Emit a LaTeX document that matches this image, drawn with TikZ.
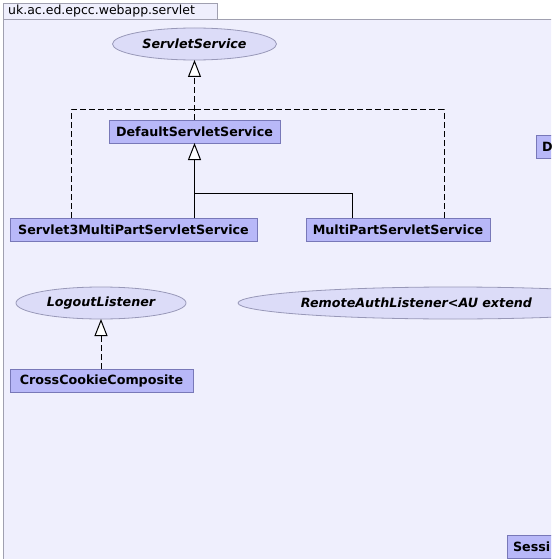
\documentclass[tikz,border=0pt]{standalone}
\usepackage{fontspec}
\setmainfont{DejaVu Sans}
\usepackage{xcolor}
\definecolor{framefill}{HTML}{EFEFFD}
\definecolor{framedraw}{HTML}{A0A0B0}
\definecolor{ifacefill}{HTML}{DCDCF8}
\definecolor{ifacedraw}{HTML}{9898B8}
\definecolor{clsfill}{HTML}{B8B8F8}
\definecolor{clsdraw}{HTML}{7878B8}
\usetikzlibrary{shapes.geometric, arrows.meta, positioning, calc}
\tikzset{
  pkgtab/.style ={draw=framedraw, fill=framefill, line width=0.8pt},
  clsbox/.style ={rectangle, draw=clsdraw, fill=clsfill, line width=0.8pt, text=black,
                  inner sep=0pt, minimum height=23pt, outer sep=0pt, font=\fontsize{12.7}{14}\selectfont\bfseries},
  ifacebox/.style={ellipse, draw=ifacedraw, fill=ifacefill, line width=0.8pt, text=black,
                  inner sep=0pt, minimum height=32pt, outer sep=0pt, font=\fontsize{12.7}{14}\selectfont\bfseries\itshape},
  realize/.style ={-{Triangle[length=17pt, width=13pt, fill=white]}, line width=1pt, dash pattern=on 6pt off 3pt},
  inherit/.style ={-{Triangle[length=17pt, width=13pt, fill=white]}, line width=1pt},
  dashline/.style={line width=1pt, dash pattern=on 6pt off 3pt},
  solidline/.style={line width=1pt},
}

\begin{document}
\begin{tikzpicture}[x=1pt, y=-1pt]
  \useasboundingbox (0,0) rectangle (551,559);
  \clip (0,0) rectangle (551,559);
  % package frame
  \fill[white] (0,0) rectangle (551,559);
  \draw[pkgtab] (3,19) rectangle (600,600);
  \draw[pkgtab] (3,3) rectangle (217,19);
  \node[anchor=west, inner sep=0pt, font=\fontsize{12.5}{14}\selectfont] (pkg) at (8,11.5) {uk.ac.ed.epcc.webapp.servlet};
  % interfaces
  \node[ifacebox, minimum width=164pt] (svc) at (194.5,44) {ServletService};
  \node[ifacebox, minimum width=170pt] (logout) at (101,303) {LogoutListener};
  \node[ifacebox, anchor=west, text width=304pt, align=left] (remote) at (238,303) {RemoteAuthListener<AU extend};
  % classes
  \node[clsbox, minimum width=171pt] (dflt) at (194.5,131.5) {DefaultServletService};
  \node[clsbox, minimum width=247pt] (s3) at (133.5,229.5) {Servlet3MultiPartServletService};
  \node[clsbox, minimum width=184pt] (mp) at (398,229.5) {MultiPartServletService};
  \node[clsbox, minimum width=183pt] (cc) at (101.5,380.5) {CrossCookieComposite};
  \node[clsbox, anchor=west, minimum width=40pt, text width=28pt, align=left] (dcls) at (536,146.5) {D};
  \node[clsbox, anchor=north west, minimum width=60pt, text width=48pt, align=left] (sess) at (507,535) {Sessi};
  % connectors
  \coordinate (jn) at (194.5,110);
  \coordinate (jn2) at (194.5,193);
  \draw[dashline] ([xshift=61pt]s3.north west) |- (jn);
  \draw[dashline] ([xshift=-46pt]mp.north east) |- (jn);
  \draw[realize] (dflt) -- (svc);
  \draw[inherit] (dflt.south |- s3.north) -- (dflt.south);
  \draw[solidline] ([xshift=46pt]mp.north west) |- (jn2);
  \draw[realize] (cc.north -| logout.south) -- (logout);
\end{tikzpicture}
\end{document}
